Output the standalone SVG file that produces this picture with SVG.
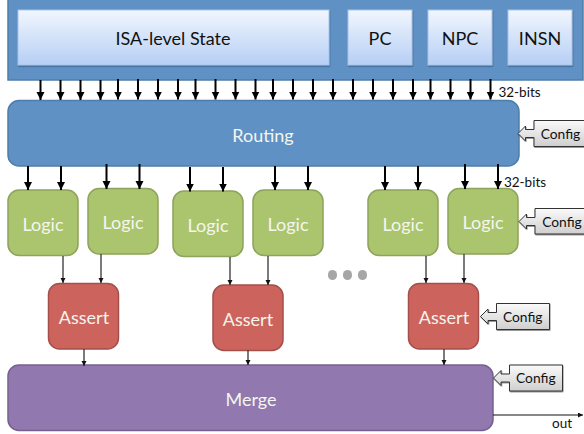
<svg xmlns="http://www.w3.org/2000/svg" width="584" height="434" viewBox="0 0 584 434">
<style>
text{font-family:"Lato","Open Sans","Liberation Sans",sans-serif;text-anchor:middle}
.big{font-size:18px}
.dark{fill:#111}
.light{fill:#f4f6ee}
.state{fill:url(#st);stroke:#a9c4ea;stroke-width:1;filter:url(#sh)}
.blue{fill:#5f91c5;stroke:#4f7da9;stroke-width:1.5}
.logic{fill:#abc46e;stroke:#8ea35c;stroke-width:1.5}
.assert{fill:#cc645d;stroke:#a44f4b;stroke-width:1.5}
.merge{fill:#9178ae;stroke:#75618f;stroke-width:1.5}
.cfg{fill:url(#cf);stroke:#333;stroke-width:1;filter:url(#sh2)}
.cfgt{font-size:13.800px;fill:#111}
.small{font-size:13.500px;fill:#111}
.w2{stroke:#000;stroke-width:2;fill:none;marker-end:url(#a2)}
.w1{stroke:#333;stroke-width:1.300;fill:none;marker-end:url(#a1)}
.w0{stroke:#111;stroke-width:1;fill:none;marker-end:url(#a1)}
</style>
<defs>
<linearGradient id="st" x1="0" y1="0" x2="0" y2="1"><stop offset="0" stop-color="#f1f6fe"/><stop offset="1" stop-color="#b6cff5"/></linearGradient>
<linearGradient id="cf" x1="0" y1="0" x2="0" y2="1"><stop offset="0" stop-color="#fafafa"/><stop offset="1" stop-color="#cfcfcf"/></linearGradient>
<filter id="sh" x="-5%" y="-5%" width="110%" height="115%"><feDropShadow dx="0.500" dy="1.200" stdDeviation="0.500" flood-color="#2f4f78" flood-opacity="0.800"/></filter>
<filter id="sh2" x="-5%" y="-5%" width="110%" height="115%"><feDropShadow dx="0.500" dy="0.800" stdDeviation="0.300" flood-color="#000" flood-opacity="0.500"/></filter>
<marker id="a2" markerUnits="userSpaceOnUse" markerWidth="9" markerHeight="9" refX="8" refY="4" orient="auto"><path d="M0 0L8 4L0 8Z" fill="#000"/></marker>
<marker id="a1" markerUnits="userSpaceOnUse" markerWidth="6" markerHeight="6" refX="5" refY="2.500" orient="auto"><path d="M0 0L5 2.500L0 5Z" fill="#111"/></marker>
</defs>
<g id="state-panel"><rect class="blue" x="8" y="-2" width="575" height="82"/></g>
<g id="isa"><rect class="state" x="18" y="10" width="311" height="55"/><text class="big dark" x="173" y="44.500">ISA-level State</text></g>
<g id="pc"><rect class="state" x="348" y="10" width="64" height="55"/><text class="big dark" x="380" y="44.500">PC</text></g>
<g id="npc"><rect class="state" x="428" y="10" width="64" height="55"/><text class="big dark" x="460" y="44.500">NPC</text></g>
<g id="insn"><rect class="state" x="508" y="10" width="64" height="55"/><text class="big dark" x="540" y="44.500">INSN</text></g>
<g id="routing"><rect class="blue" x="8" y="100.500" width="511" height="65.500" rx="11"/><text class="big light" x="263" y="141.500">Routing</text></g>
<g id="logic1"><rect class="logic" x="8" y="190" width="70" height="65.500" rx="11"/><text class="big light" x="43" y="231">Logic</text></g>
<g id="logic2"><rect class="logic" x="88" y="188.500" width="70" height="65.500" rx="11"/><text class="big light" x="123" y="229">Logic</text></g>
<g id="logic3"><rect class="logic" x="173" y="191" width="70" height="65.500" rx="11"/><text class="big light" x="208" y="232">Logic</text></g>
<g id="logic4"><rect class="logic" x="253" y="190" width="70" height="65.500" rx="11"/><text class="big light" x="288" y="231">Logic</text></g>
<g id="logic5"><rect class="logic" x="368" y="190" width="70" height="65.500" rx="11"/><text class="big light" x="403" y="231">Logic</text></g>
<g id="logic6"><rect class="logic" x="448" y="188.500" width="70" height="65.500" rx="11"/><text class="big light" x="483" y="229">Logic</text></g>
<g id="assert1"><rect class="assert" x="48.500" y="283.500" width="70" height="65.500" rx="11"/><text class="big light" x="84" y="323.500">Assert</text></g>
<g id="assert2"><rect class="assert" x="213" y="285" width="70" height="65.500" rx="11"/><text class="big light" x="248" y="325.500">Assert</text></g>
<g id="assert3"><rect class="assert" x="408.500" y="283.500" width="70" height="65.500" rx="11"/><text class="big light" x="444" y="323.500">Assert</text></g>
<g id="merge"><rect class="merge" x="8" y="365" width="485" height="65.500" rx="11"/><text class="big light" x="251" y="406">Merge</text></g>
<g id="dots" fill="#a6a6a6"><rect x="328" y="270" width="9" height="10" rx="4.500"/><rect x="343" y="270" width="9" height="10" rx="4.500"/><rect x="358" y="270" width="9" height="10" rx="4.500"/></g>
<g id="config-routing"><path class="cfg" d="M534 120.500H585V146.500H534V137.500H525.500V141L518 133.500L525.500 126V129.500H534Z"/><text class="cfgt" x="560.500" y="138.500">Config</text></g>
<g id="config-logic"><path class="cfg" d="M535 208.500H585V234H535V225.500H526.500V229L519 221.500L526.500 214V217.500H535Z"/><text class="cfgt" x="562" y="226.500">Config</text></g>
<g id="config-assert"><path class="cfg" d="M496.500 303.500H549.500V329.500H496.500V320.500H488V324L480.500 316.500L488 309V312.500H496.500Z"/><text class="cfgt" x="522.700" y="321.500">Config</text></g>
<g id="config-merge"><path class="cfg" d="M509.500 365H562.500V391H509.500V382H501V385.500L493.500 378L501 370.500V374H509.500Z"/><text class="cfgt" x="535.800" y="383">Config</text></g>
<g id="connectors">
<path class="w2" d="M40.500 80V100"/><path class="w2" d="M60.500 80V100"/><path class="w2" d="M80.500 80V100"/><path class="w2" d="M100.500 80V100"/><path class="w2" d="M118 79V99.500"/><path class="w2" d="M138 79V99.500"/><path class="w2" d="M158 79V99.500"/><path class="w2" d="M178 79V99.500"/><path class="w2" d="M195.500 79V99.500"/><path class="w2" d="M215.500 79V99.500"/><path class="w2" d="M235.500 79V99.500"/><path class="w2" d="M255.500 79V99.500"/><path class="w2" d="M273 79V99.500"/><path class="w2" d="M293 79V99.500"/><path class="w2" d="M313 79V99.500"/><path class="w2" d="M333 79V99.500"/><path class="w2" d="M353 79V99.500"/><path class="w2" d="M373 79V99.500"/><path class="w2" d="M393 79V99.500"/><path class="w2" d="M413 79V99.500"/><path class="w2" d="M430.500 79V99.500"/><path class="w2" d="M450.500 79V99.500"/><path class="w2" d="M470.500 79V99.500"/><path class="w2" d="M490.500 79V99.500"/>
<path class="w2" d="M28 166V190"/><path class="w2" d="M61 166V190"/><path class="w2" d="M106.500 164V189"/><path class="w2" d="M139.500 164V189"/><path class="w2" d="M190 167V191.500"/><path class="w2" d="M223 167V191.500"/><path class="w2" d="M275 166V190"/><path class="w2" d="M308 166V190"/><path class="w2" d="M385 166V190"/><path class="w2" d="M418 166V190"/><path class="w2" d="M465 164V189"/><path class="w2" d="M498 164V189"/>
<path class="w1" d="M63 256V283"/><path class="w1" d="M101 254V283"/><path class="w1" d="M230 257V285"/><path class="w1" d="M268 256V285"/><path class="w1" d="M426 256V283"/><path class="w1" d="M464 254V283"/>
<path class="w1" d="M84 349V366"/><path class="w1" d="M248 350V365"/><path class="w1" d="M444 349V365"/>
<path class="w0" d="M493 415H583"/>
</g>
<text class="small" x="519.500" y="97">32-bits</text>
<text class="small" x="525" y="187">32-bits</text>
<text class="small" x="562" y="428">out</text>
</svg>
